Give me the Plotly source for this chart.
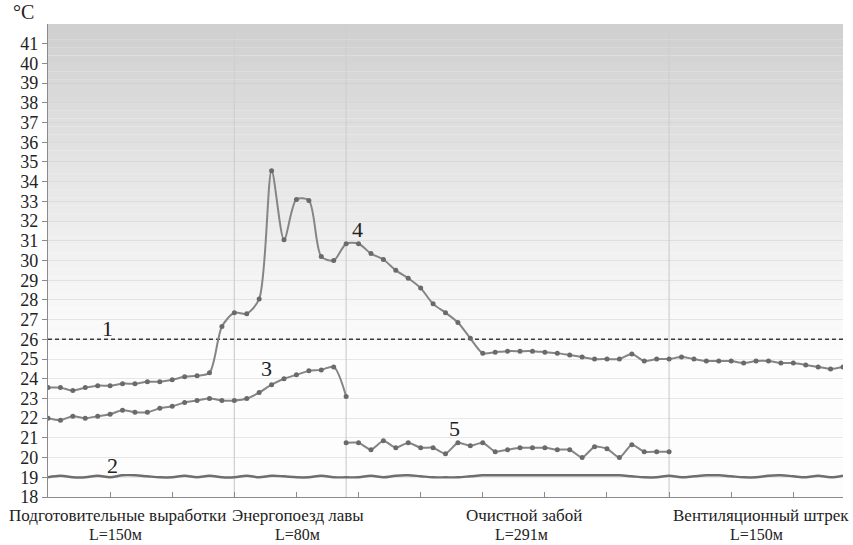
import plotly.graph_objects as go

# ---------------- data ----------------
points = list(range(65))  # measurement point index along the route

series4 = [23.55, 23.55, 23.4, 23.55, 23.65, 23.65, 23.75, 23.75, 23.85, 23.85,
           23.95, 24.1, 24.15, 24.3, 26.65, 27.35, 27.3, 28.05, 34.55, 31.05,
           33.1, 33.05, 30.2, 30.0, 30.85, 30.85, 30.35, 30.05, 29.5, 29.1,
           28.6, 27.8, 27.35, 26.85, 26.05, 25.3, 25.35, 25.4, 25.4, 25.4,
           25.35, 25.3, 25.2, 25.1, 25.0, 25.0, 25.0, 25.25, 24.9, 25.0,
           25.0, 25.1, 25.0, 24.9, 24.9, 24.9, 24.8, 24.9, 24.9, 24.8,
           24.8, 24.7, 24.6, 24.5, 24.6]

series3_x = points[0:25]
series3 = [22.0, 21.9, 22.1, 22.0, 22.1, 22.2, 22.4, 22.3, 22.3, 22.5,
           22.6, 22.8, 22.9, 23.0, 22.9, 22.9, 23.0, 23.3, 23.7, 24.0,
           24.2, 24.4, 24.45, 24.6, 23.1]

series5_x = points[24:51]
series5 = [20.75, 20.75, 20.4, 20.85, 20.5, 20.75, 20.5, 20.5, 20.2, 20.75,
           20.6, 20.75, 20.3, 20.4, 20.5, 20.5, 20.5, 20.4, 20.4, 20.0,
           20.55, 20.45, 20.0, 20.65, 20.3, 20.3, 20.3]

series2 = [19.0, 19.08, 19.0, 19.0, 19.08, 19.0, 19.1, 19.1, 19.05, 19.0,
           19.0, 19.08, 19.0, 19.08, 19.0, 19.0, 19.08, 19.0, 19.08, 19.05,
           19.0, 19.0, 19.08, 19.0, 19.0, 19.0, 19.08, 19.0, 19.08, 19.1,
           19.05, 19.0, 19.0, 19.0, 19.05, 19.1, 19.1, 19.1, 19.1, 19.1,
           19.1, 19.1, 19.1, 19.1, 19.1, 19.1, 19.1, 19.05, 19.0, 19.0,
           19.08, 19.0, 19.05, 19.1, 19.1, 19.05, 19.0, 19.0, 19.08, 19.1,
           19.05, 19.0, 19.08, 19.0, 19.08]

limit_value = 26  # line 1

section_bounds = [15, 24, 50]
section_names = ["Подготовительные выработки", "Энергопоезд лавы",
                 "Очистной забой", "Вентиляционный штрек"]
section_lengths = ["L=150м", "L=80м", "L=291м", "L=150м"]

y_ticks = list(range(18, 42))
curve_labels = ["1", "2", "3", "4", "5"]

# ---------------- layout helpers (styling / placement) ----------------
name_pos = [5.6, 20.1, 38.3, 57.4]
len_pos = [5.4, 20.1, 38.1, 57.0]
label_pos = [(4.75, 26.55), (5.2, 19.6), (17.6, 24.5), (24.9, 31.55), (32.7, 21.5)]

FONT = "Liberation Serif"
LINE = "#858585"
MARK = "#6a6a6a"

fig = go.Figure()

# gradient background bands
n_bands = 60
for k in range(n_bands):
    t = (k + 0.5) / n_bands  # 0 bottom, 1 top
    f = max(0.0, (t - 0.28) / 0.72) ** 1.15
    g = int(round(253 - 46 * f))
    fig.add_shape(type="rect", xref="paper", yref="paper",
                  x0=0, x1=1, y0=k / n_bands, y1=(k + 1) / n_bands,
                  fillcolor=f"rgb({g},{g},{g})", line_width=0, layer="below")

# section boundaries
for b in section_bounds:
    fig.add_shape(type="line", xref="x", yref="paper", x0=b, x1=b, y0=0, y1=1,
                  line=dict(color="#cfcfcf", width=1.2), layer="below")

# line 1 (dashed limit)
fig.add_trace(go.Scatter(x=[points[0], points[-1]], y=[limit_value, limit_value],
                         mode="lines", line=dict(color="#3a3a3a", width=1.5, dash="4px,3px"),
                         showlegend=False, hoverinfo="skip"))
# line 2
fig.add_trace(go.Scatter(x=points, y=series2, mode="lines",
                         line=dict(color="#6e6e6e", width=2.4, shape="spline", smoothing=1),
                         showlegend=False))
# line 3
fig.add_trace(go.Scatter(x=series3_x, y=series3, mode="lines+markers",
                         line=dict(color=LINE, width=2, shape="spline", smoothing=0.8),
                         marker=dict(size=5, color=MARK), showlegend=False))
# line 4
fig.add_trace(go.Scatter(x=points, y=series4, mode="lines+markers",
                         line=dict(color=LINE, width=2, shape="spline", smoothing=0.8),
                         marker=dict(size=5, color=MARK), showlegend=False))
# line 5
fig.add_trace(go.Scatter(x=series5_x, y=series5, mode="lines+markers",
                         line=dict(color=LINE, width=2, shape="spline", smoothing=0.6),
                         marker=dict(size=5, color=MARK), showlegend=False))

annotations = []
for txt, (ax, ay) in zip(curve_labels, label_pos):
    annotations.append(dict(x=ax, y=ay, xref="x", yref="y", text=txt, showarrow=False,
                            font=dict(family=FONT, size=22, color="#222")))
for txt, px in zip(section_names, name_pos):
    annotations.append(dict(x=px, y=0, xref="x", yref="paper", yshift=-18, text=txt,
                            showarrow=False, yanchor="middle",
                            font=dict(family=FONT, size=17, color="#222")))
for txt, px in zip(section_lengths, len_pos):
    annotations.append(dict(x=px, y=0, xref="x", yref="paper", yshift=-37, text=txt,
                            showarrow=False, yanchor="middle",
                            font=dict(family=FONT, size=16, color="#222")))
annotations.append(dict(x=0, y=1, xref="paper", yref="paper", xshift=-25, yshift=12,
                        text="°C", showarrow=False, xanchor="center", yanchor="middle",
                        font=dict(family=FONT, size=20, color="#222")))

fig.update_layout(
    width=853, height=545,
    margin=dict(l=48, r=10, t=24, b=48, autoexpand=False),
    paper_bgcolor="white", plot_bgcolor="rgba(0,0,0,0)",
    font=dict(family=FONT, color="#222"),
    annotations=annotations,
    xaxis=dict(range=[points[0], points[-1]], showgrid=False, zeroline=False,
               automargin=False,
               showline=True, linecolor="#8a8a8a", linewidth=1.2,
               ticks="inside", ticklen=5, tickcolor="#8a8a8a",
               tickvals=points[::5], showticklabels=False),
    yaxis=dict(range=[18, 42], tickvals=y_ticks, ticktext=[str(v) for v in y_ticks],
               automargin=False,
               showgrid=True, gridcolor="rgba(205,205,205,0.45)", gridwidth=1,
               zeroline=False, showline=True, linecolor="#8a8a8a", linewidth=1.2,
               ticks="outside", ticklen=5, tickcolor="#8a8a8a",
               tickfont=dict(family=FONT, size=18, color="#222")),
)

fig.write_html("out.html", config={"displayModeBar": False},
               post_script="document.body.style.margin='0';")
